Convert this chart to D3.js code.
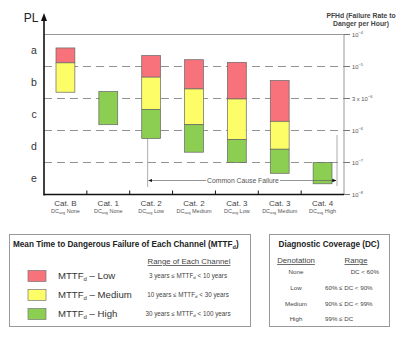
<!DOCTYPE html>
<meta charset="utf-8">
<script src="https://cdn.jsdelivr.net/npm/d3@7"></script>
<style>
  body { margin: 0; background: #fff; }
  text { font-family: "Liberation Sans", Arial, sans-serif; }
</style>
<div id="js_chart"></div>
<script>
// categories along the bottom
const cats = ["Cat. B", "Cat. 1", "Cat. 2", "Cat. 2", "Cat. 3", "Cat. 3", "Cat. 4"];
const dcLabels = ["None", "None", "Low", "Medium", "Low", "Medium", "High"];

// PL levels and PFHd boundaries
const plLevels = ["a", "b", "c", "d", "e"];
const pfhTicks = [1e-4, 1e-5, 3e-6, 1e-6, 1e-7, 1e-8];
const pfhTickLabels = ["10", "10", "3 x 10", "10", "10", "10"];
const pfhTickExp = ["-4", "-5", "-6", "-6", "-7", "-8"];

// bar segments: [category index, MTTFd level, top PFHd, bottom PFHd]
const segments = [
  [0, "Low", 3.8e-5, 1.3e-5], [0, "Medium", 1.3e-5, 3.8e-6],
  [1, "High", 3.9e-6, 1.22e-6],
  [2, "Low", 2.2e-5, 6.7e-6], [2, "Medium", 6.7e-6, 2.06e-6], [2, "High", 2.06e-6, 5.6e-7],
  [3, "Low", 1.63e-5, 4.3e-6], [3, "Medium", 4.3e-6, 1.22e-6], [3, "High", 1.22e-6, 2.1e-7],
  [4, "Low", 1.35e-5, 2.95e-6], [4, "Medium", 2.95e-6, 5.2e-7], [4, "High", 5.2e-7, 1e-7],
  [5, "Low", 5.9e-6, 1.37e-6], [5, "Medium", 1.37e-6, 2.6e-7], [5, "High", 2.6e-7, 4.6e-8],
  [6, "High", 1e-7, 2.16e-8]
];

const mttfLevels = ["Low", "Medium", "High"];
const mttfRanges = ["3 years \u2264 MTTF", "10 years \u2264 MTTF", "30 years \u2264 MTTF"];
const mttfRangeEnds = [" < 10 years", " < 30 years", " < 100 years"];
const dcNames = ["None", "Low", "Medium", "High"];
const dcRanges = ["DC < 60%", "60% \u2264 DC < 90%", "90% \u2264 DC < 99%", "99% \u2264 DC"];

const colors = { Low: "#f7727a", Medium: "#fdfd68", High: "#8cce52" };

const width = 400, height = 337;
const svg = d3.select("#js_chart").append("svg")
  .attr("width", width).attr("height", height);

const pLeft = 44, pRight = 344, pTop = 34.5, pBottom = 194.5;

// PL boundaries are evenly spaced, so map log10(PFHd) piecewise onto them
const y = d3.scaleLinear()
  .domain(pfhTicks.map(v => Math.log10(v)))
  .range(d3.range(6).map(i => pTop + i * (pBottom - pTop) / 5));
const yv = v => y(Math.log10(v));

const x = d3.scaleBand().domain(d3.range(cats.length)).range([pLeft, pRight]).paddingInner(0.56).paddingOuter(0.28);
const xcol = d3.scaleBand().domain(d3.range(cats.length)).range([pLeft, pRight]);

// top line + right axis
svg.append("line").attr("x1", pLeft).attr("x2", pRight).attr("y1", pTop).attr("y2", pTop)
  .attr("stroke", "#999").attr("stroke-width", 1);
svg.append("line").attr("x1", pRight).attr("x2", pRight).attr("y1", pTop).attr("y2", pBottom)
  .attr("stroke", "#999").attr("stroke-width", 1);

// dashed PL boundaries
svg.append("g").selectAll("line").data(pfhTicks.slice(1, 5)).enter().append("line")
  .attr("x1", pLeft).attr("x2", pRight)
  .attr("y1", d => yv(d)).attr("y2", d => yv(d))
  .attr("stroke", "#777").attr("stroke-width", 0.8).attr("stroke-dasharray", "8,5");

// right tick marks and labels
const rt = svg.append("g").selectAll("g").data(pfhTicks).enter().append("g")
  .attr("transform", d => "translate(" + pRight + "," + yv(d) + ")");
rt.append("line").attr("x1", 0).attr("x2", 6).attr("stroke", "#777");
const rtText = rt.append("text").attr("x", 8).attr("dy", "0.35em")
  .attr("font-size", 5.8).attr("fill", "#555");
rtText.append("tspan").text((d, i) => pfhTickLabels[i]);
rtText.append("tspan").attr("dy", -2.5).attr("font-size", 4).text((d, i) => "\u2212" + pfhTickExp[i].slice(1));

svg.append("text").attr("x", 361).attr("y", 18).attr("text-anchor", "middle")
  .attr("font-size", 6.8).attr("font-weight", "bold").attr("fill", "#444")
  .text("PFHd (Failure Rate to");
svg.append("text").attr("x", 361).attr("y", 26).attr("text-anchor", "middle")
  .attr("font-size", 6.8).attr("font-weight", "bold").attr("fill", "#444")
  .text("Danger per Hour)");

// bars
svg.append("g").selectAll("rect").data(segments).enter().append("rect")
  .attr("x", d => x(d[0]))
  .attr("width", x.bandwidth())
  .attr("y", d => yv(d[2]))
  .attr("height", d => yv(d[3]) - yv(d[2]))
  .attr("fill", d => colors[d[1]])
  .attr("stroke", "#666").attr("stroke-width", 0.7);

// common cause failure annotation
const ccY = 180.5;
const ccLeft = xcol(2) + xcol.bandwidth() / 2 - 3.5;
const ccRight = pRight - 7;
svg.append("defs").append("marker").attr("id", "arr")
  .attr("viewBox", "0 0 10 10").attr("refX", 9).attr("refY", 5)
  .attr("markerWidth", 6).attr("markerHeight", 6).attr("orient", "auto-start-reverse")
  .append("path").attr("d", "M0,1 L10,5 L0,9 Z").attr("fill", "#111");
svg.append("line").attr("x1", ccLeft).attr("x2", ccLeft).attr("y1", yv(5.6e-7)).attr("y2", 187)
  .attr("stroke", "#888").attr("stroke-width", 0.7);
svg.append("line").attr("x1", ccRight).attr("x2", ccRight).attr("y1", 135).attr("y2", 186)
  .attr("stroke", "#888").attr("stroke-width", 0.7);
svg.append("line").attr("x1", ccLeft + 1).attr("x2", ccRight - 1).attr("y1", ccY).attr("y2", ccY)
  .attr("stroke", "#666").attr("stroke-width", 0.7)
  .attr("marker-start", "url(#arr)").attr("marker-end", "url(#arr)");
const ccBg = svg.append("rect").attr("fill", "#fff");
const ccText = svg.append("text").attr("x", 243).attr("y", ccY).attr("dy", "0.35em")
  .attr("text-anchor", "middle").attr("font-size", 6.8).attr("fill", "#555").text("Common Cause Failure");
const bb = ccText.node().getBBox();
ccBg.attr("x", bb.x - 1).attr("y", bb.y).attr("width", bb.width + 2).attr("height", bb.height);

// left axis with arrow
svg.append("line").attr("x1", pLeft).attr("x2", pLeft).attr("y1", pBottom + 1).attr("y2", 18)
  .attr("stroke", "#111").attr("stroke-width", 1.6);
svg.append("path").attr("d", `M${pLeft - 3},21 L${pLeft},13 L${pLeft + 3},21 Z`).attr("fill", "#111");
svg.append("text").attr("x", 31).attr("y", 22).attr("text-anchor", "middle")
  .attr("font-size", 12).attr("fill", "#222").text("PL");

svg.append("g").selectAll("text").data(plLevels).enter().append("text")
  .attr("x", 34).attr("text-anchor", "middle").attr("dy", "0.35em")
  .attr("y", (d, i) => (yv(pfhTicks[i]) + yv(pfhTicks[i + 1])) / 2)
  .attr("font-size", 10.5).attr("fill", "#333").text(d => d);

// bottom axis
svg.append("line").attr("x1", pLeft).attr("x2", pRight).attr("y1", pBottom).attr("y2", pBottom)
  .attr("stroke", "#111").attr("stroke-width", 1.6);
svg.append("g").selectAll("line").data(d3.range(1, cats.length)).enter().append("line")
  .attr("x1", d => xcol(d)).attr("x2", d => xcol(d))
  .attr("y1", pBottom - 4).attr("y2", pBottom).attr("stroke", "#111").attr("stroke-width", 1);

const catG = svg.append("g").selectAll("g").data(cats).enter().append("g")
  .attr("transform", (d, i) => "translate(" + (xcol(i) + xcol.bandwidth() / 2) + ",0)");
catG.append("text").attr("y", 206).attr("text-anchor", "middle")
  .attr("font-size", 8).attr("fill", "#444").text(d => d);
const sub = catG.append("text").attr("y", 213).attr("text-anchor", "middle")
  .attr("font-size", 5.5).attr("fill", "#555");
sub.append("tspan").text("DC");
sub.append("tspan").attr("font-size", 3.8).attr("dy", 1.2).text("avg");
sub.append("tspan").attr("dy", -1.2).text((d, i) => " " + dcLabels[i]);

// MTTFd legend box
svg.append("rect").attr("x", 9.5).attr("y", 234.5).attr("width", 241).attr("height", 92)
  .attr("fill", "#fff").attr("stroke", "#999").attr("stroke-width", 1);
const t1 = svg.append("text").attr("x", 13).attr("y", 247).attr("font-size", 8.2)
  .attr("font-weight", "bold").attr("fill", "#222");
t1.append("tspan").text("Mean Time to Dangerous Failure of Each Channel (MTTF");
t1.append("tspan").attr("font-size", 5.5).attr("dy", 1.5).text("d");
t1.append("tspan").attr("dy", -1.5).text(")");
svg.append("text").attr("x", 189).attr("y", 264).attr("text-anchor", "middle")
  .attr("font-size", 7.8).attr("fill", "#444").attr("text-decoration", "underline")
  .text("Range of Each Channel");

const lg = svg.append("g").selectAll("g").data(mttfLevels).enter().append("g")
  .attr("transform", (d, i) => "translate(0," + (276 + i * 19) + ")");
lg.append("rect").attr("x", 28).attr("y", -5.5).attr("width", 18).attr("height", 11)
  .attr("fill", d => colors[d]).attr("stroke", "#777").attr("stroke-width", 0.7);
const ll = lg.append("text").attr("x", 58).attr("dy", "0.35em").attr("font-size", 9.6).attr("fill", "#333");
ll.append("tspan").text("MTTF");
ll.append("tspan").attr("font-size", 6).attr("dy", 2).text("d");
ll.append("tspan").attr("dy", -2).text(d => " \u2013 " + d);
const lr = lg.append("text").attr("x", 188).attr("dy", "0.35em").attr("text-anchor", "middle")
  .attr("font-size", 6.3).attr("fill", "#444");
lr.append("tspan").text((d, i) => mttfRanges[i]);
lr.append("tspan").attr("font-size", 4.4).attr("dy", 1).text("d");
lr.append("tspan").attr("dy", -1).text((d, i) => mttfRangeEnds[i]);

// DC legend box
svg.append("rect").attr("x", 269.5).attr("y", 234.5).attr("width", 120).attr("height", 92)
  .attr("fill", "#fff").attr("stroke", "#999").attr("stroke-width", 1);
svg.append("text").attr("x", 329).attr("y", 247).attr("text-anchor", "middle")
  .attr("font-size", 8.2).attr("font-weight", "bold").attr("fill", "#222")
  .text("Diagnostic Coverage (DC)");
svg.append("text").attr("x", 296).attr("y", 263).attr("text-anchor", "middle")
  .attr("font-size", 7.8).attr("fill", "#444").attr("text-decoration", "underline").text("Denotation");
svg.append("text").attr("x", 356).attr("y", 263).attr("text-anchor", "middle")
  .attr("font-size", 7.8).attr("fill", "#444").attr("text-decoration", "underline").text("Range");

const dg = svg.append("g").selectAll("g").data(dcNames).enter().append("g")
  .attr("transform", (d, i) => "translate(0," + (272 + i * 15.7) + ")");
dg.append("text").attr("x", 296).attr("dy", "0.35em").attr("text-anchor", "middle")
  .attr("font-size", 6.2).attr("fill", "#444").text(d => d);
dg.append("text").attr("x", (d, i) => i === 0 ? 379 : 325).attr("dy", "0.35em")
  .attr("text-anchor", (d, i) => i === 0 ? "end" : "start")
  .attr("font-size", 6.2).attr("fill", "#444").text((d, i) => dcRanges[i]);
</script>
